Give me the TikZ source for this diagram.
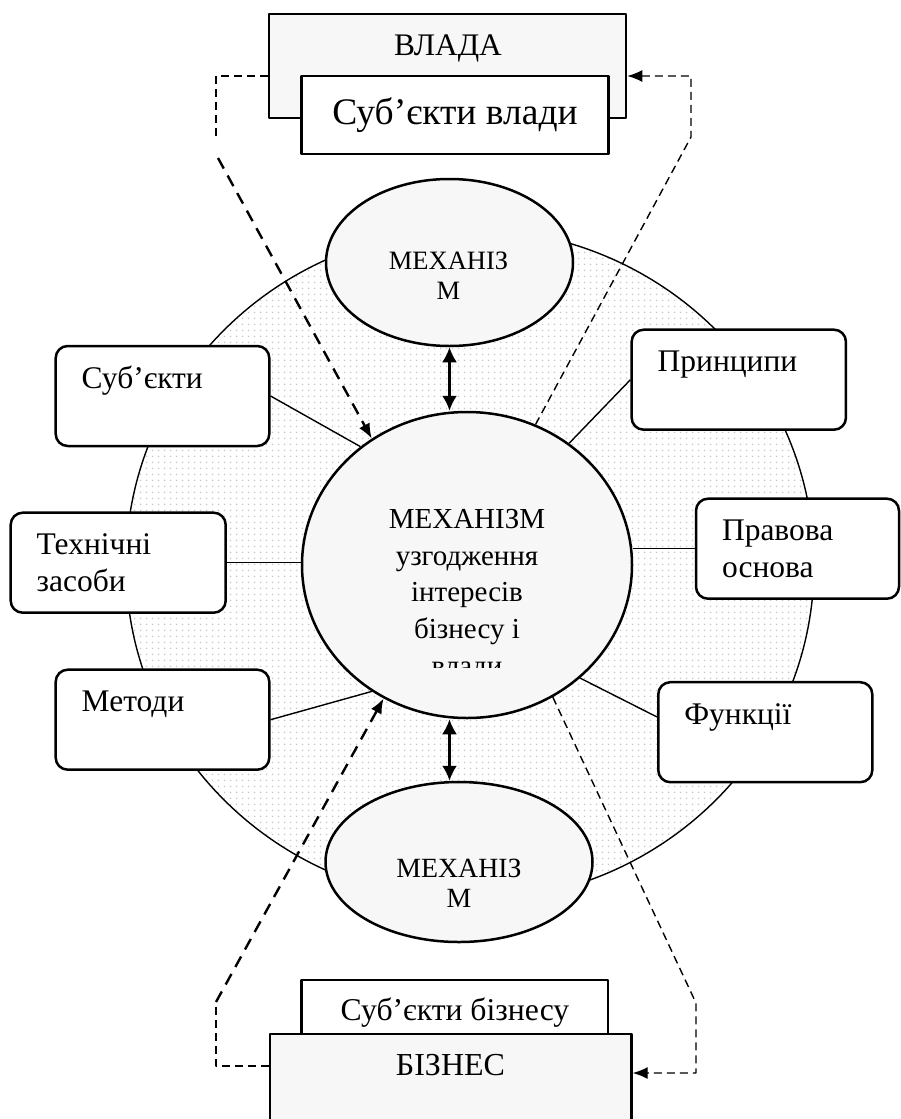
\documentclass[tikz,border=0pt]{standalone}
\usepackage{fontspec}
\setmainfont{Liberation Serif}
\usetikzlibrary{shapes.geometric,arrows.meta,patterns.meta}
\tikzdeclarepattern{
  name=ringdots,
  type=uncolored,
  bounding box={(0pt,0pt) and (6pt,6pt)},
  tile size={(6pt,6pt)},
  code={\fill (3pt,3pt) circle [radius=1pt];}
}
\begin{document}
\begin{tikzpicture}[x=1pt, y=-1pt, line join=round, >={Latex[length=15pt,width=12pt]},
	sidebox/.style={draw, line width=2.5pt, fill=white, rounded corners=12pt, minimum height=100pt, inner xsep=26pt, inner ysep=0pt, align=left, font=\fontsize{31.5}{37}\selectfont},
	oval/.style={ellipse, draw, line width=2.5pt, fill=black!3, inner sep=0pt},
	plainbox/.style={rectangle, draw, line width=2.5pt, inner sep=0pt},
	txt/.style={inner sep=0pt, align=center},
	link/.style={line width=1.4pt},
	dashthick/.style={line width=2.4pt, dash pattern=on 12pt off 8pt},
	dashthin/.style={line width=1.4pt, dash pattern=on 8pt off 5pt},
	both/.style={line width=2.4pt, {Latex[length=15pt,width=15pt]}-{Latex[length=15pt,width=15pt]}}]
	\useasboundingbox (0,0) rectangle (901,1119);
	\clip (0,0) rectangle (901,1119);
	\node[ellipse, draw, line width=1.4pt, pattern=ringdots, pattern color=black!22, minimum width=688pt, minimum height=672pt] (ring) at (470,565) {};
	\node[oval, minimum width=330pt, minimum height=306pt] (c) at (467,565) {};
	\node[oval, minimum width=247pt, minimum height=167pt] (top) at (449.5,262.5) {};
	\node[oval, minimum width=267pt, minimum height=160pt] (bot) at (459,862) {};
	\node[sidebox, text width=161.6pt] (subj) at (162.5,396) {Суб’єкти\\\mbox{}};
	\node[sidebox, text width=163pt] (tech) at (118.2,562.7) {Технічні\\засоби};
	\node[sidebox, text width=161.6pt] (meth) at (162.5,719.7) {Методи\\\mbox{}};
	\node[sidebox, text width=162.3pt] (princ) at (738.8,379.7) {Принципи\\\mbox{}};
	\node[sidebox, text width=151pt] (law) at (797.5,548.7) {Правова\\основа};
	\node[sidebox, text width=162pt] (func) at (765.3,732.2) {Функції\\\mbox{}};
	\draw[link] (subj.east) -- (c.132);
	\draw[link] (tech.east) -- (tech.east -| c.west);
	\draw[link] (meth.east) -- (c.233);
	\draw[link] (princ.west) -- (c.50);
	\draw[link] (law.west) -- (law.west -| c.east);
	\draw[link] (func.172) -- (c.-45);
	\draw[both] (top.south) -- (top.south |- c.north);
	\draw[both] (c.south -| top.south) -- (bot.north -| top.south);
	\begin{scope}
		\clip (300,400) rectangle (640,667);
		\node[txt, anchor=north, font=\fontsize{29}{36.7}\selectfont] (ctext) at (467,509) {МЕХАНІЗМ\\узгодження\\інтересів\\бізнесу і\\влади};
	\end{scope}
	\node[txt, anchor=north, font=\fontsize{26.5}{30}\selectfont] (toptext) at (448.5,251.5) {МЕХАНІЗ\\М};
	\node[txt, anchor=north, font=\fontsize{27.8}{30}\selectfont] (bottext) at (459,858.6) {МЕХАНІЗ\\М};
	\node[plainbox, fill=black!3, minimum width=357pt, minimum height=104pt] (vlada) at (447.5,66) {};
	\node[txt, anchor=base, font=\fontsize{31.4}{36}\selectfont] (vladatext) at (448,55) {ВЛАДА};
	\node[plainbox, fill=white, minimum width=307pt, minimum height=78pt, font=\fontsize{37.5}{42}\selectfont] (vsubj) at (455,115) {Суб’єкти влади};
	\node[plainbox, fill=black!3, minimum width=361.5pt, minimum height=110pt] (biz) at (450.7,1089) {};
	\node[txt, anchor=base, font=\fontsize{32}{36}\selectfont] (biztext) at (450.5,1075) {БІЗНЕС};
	\node[plainbox, fill=white, minimum width=306.4pt, minimum height=54pt] (bsubj) at (454.8,1007) {};
	\node[txt, anchor=base, font=\fontsize{31.7}{36}\selectfont] (bsubjtext) at (455,1020) {Суб’єкти бізнесу};
	\coordinate (tl1) at (216,76);
	\coordinate (tl2) at (216,137);
	\coordinate (tl3) at (218,158);
	\coordinate (tr1) at (691,76);
	\coordinate (tr2) at (691,137);
	\coordinate (bl1) at (216,1066);
	\coordinate (bl2) at (216,1002);
	\coordinate (br1) at (696,1073);
	\coordinate (br2) at (696,1003);
	\draw[dashthin] (vlada.west |- tl1) -- (tl1) -- (tl2);
	\draw[dashthick,->] (tl3) -- (c.127);
	\draw[dashthin,->] (c.64) -- (tr2) -- (tr1) -- (vlada.east |- tr1);
	\draw[dashthin] (biz.west |- bl1) -- (bl1) -- (bl2);
	\draw[dashthick,->] (bl2) -- (c.238);
	\draw[dashthin,->] (c.303) -- (br2) -- (br1) -- (biz.east |- br1);
\end{tikzpicture}
\end{document}
